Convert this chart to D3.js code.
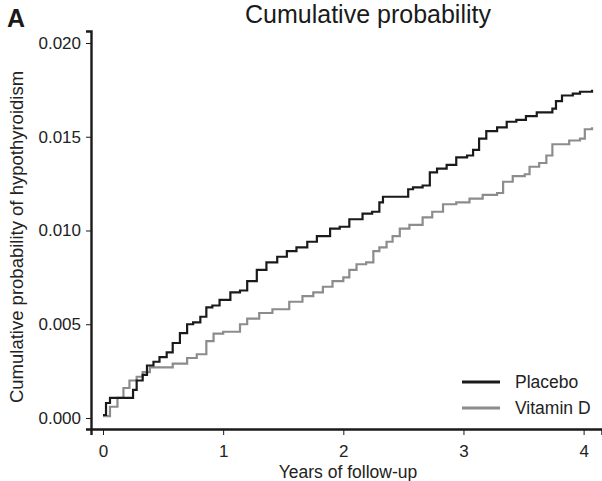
<!DOCTYPE html>
<html><head><meta charset="utf-8">
<script src="https://cdn.jsdelivr.net/npm/d3@7"></script>
<style>body{margin:0;background:#fff}svg{display:block}text{font-family:"Liberation Sans",Arial,sans-serif}</style>
</head><body><svg id="c" width="602" height="481"></svg>
<script>
const placeboT = [0,0.025,0.058,0.22,0.25,0.28,0.33,0.366,0.42,0.47,0.53,0.58,0.64,0.70,0.75,0.81,0.86,0.91,0.97,1.06,1.14,1.2,1.28,1.36,1.45,1.53,1.61,1.70,1.78,1.89,1.97,2.05,2.16,2.24,2.30,2.33,2.51,2.54,2.58,2.66,2.72,2.78,2.86,2.94,3.03,3.08,3.13,3.19,3.28,3.36,3.44,3.52,3.61,3.74,3.77,3.82,3.91,3.97,4.07];
const placeboP = [0.00016,0.0008,0.00107,0.00107,0.0015,0.0020,0.0023,0.0028,0.0030,0.00325,0.0035,0.0040,0.00453,0.0050,0.0051,0.0054,0.0059,0.0060,0.0063,0.0067,0.0068,0.0073,0.0079,0.0083,0.0086,0.0089,0.0091,0.0094,0.0097,0.0101,0.0102,0.0106,0.0109,0.0110,0.0115,0.0118,0.0118,0.0122,0.0123,0.0124,0.0131,0.0133,0.0135,0.0139,0.0140,0.0143,0.0149,0.0153,0.0155,0.0158,0.0159,0.0161,0.0163,0.0165,0.0169,0.0172,0.0173,0.0174,0.0175];
const vitdT = [0,0.058,0.12,0.17,0.22,0.28,0.33,0.39,0.50,0.58,0.70,0.78,0.86,0.92,1.0,1.08,1.14,1.2,1.30,1.41,1.55,1.66,1.75,1.83,1.91,2.0,2.05,2.11,2.19,2.25,2.30,2.36,2.41,2.47,2.55,2.66,2.74,2.83,2.94,3.05,3.16,3.28,3.33,3.41,3.51,3.55,3.63,3.69,3.74,3.82,3.88,3.97,4.01,4.07];
const vitdP = [0.0001,0.0006,0.00107,0.0016,0.0020,0.0022,0.00245,0.0027,0.0027,0.0029,0.0032,0.0034,0.0041,0.0045,0.0046,0.0046,0.0050,0.0053,0.0056,0.0058,0.0062,0.0065,0.0067,0.0070,0.0073,0.0075,0.0079,0.0082,0.0083,0.0089,0.0091,0.0094,0.0097,0.0101,0.0103,0.0107,0.0110,0.0114,0.0115,0.0117,0.0119,0.0120,0.0126,0.0129,0.0130,0.0134,0.0136,0.0140,0.0146,0.0146,0.0148,0.0149,0.0154,0.0155];
const seriesNames = ["Placebo","Vitamin D"];
const seriesColors = ["#1a1a1a","#8c8c8c"];
const xTicks = [0,1,2,3,4];
const yTicks = [0,0.005,0.010,0.015,0.020];

const svg = d3.select("#c");
const x = d3.scaleLinear().domain([-0.1,4.153]).range([91,602]);
const y = d3.scaleLinear().domain([-0.000587,0.02064]).range([429,31]);

const xa = svg.append("g").attr("transform","translate(0,429)")
  .call(d3.axisBottom(x).tickValues(xTicks).tickFormat(d3.format("d")).tickSizeOuter(0).tickSize(6).tickPadding(10));
const ya = svg.append("g").attr("transform","translate(91,0)")
  .call(d3.axisLeft(y).tickValues(yTicks).tickFormat(d3.format(".3f")).tickSizeOuter(0).tickSize(5).tickPadding(5));
[xa,ya].forEach(a=>{
  a.select(".domain").attr("stroke","#1a1a1a").attr("stroke-width",2.4);
  a.selectAll(".tick line").attr("stroke","#1a1a1a").attr("stroke-width",1);
  a.selectAll("text").attr("font-size",17).attr("fill","#222").attr("font-family","Liberation Sans, Arial, sans-serif");
});

const line = d3.line().x(d=>x(d[0])).y(d=>y(d[1])).curve(d3.curveStepAfter);
const data = [d3.zip(placeboT,placeboP), d3.zip(vitdT,vitdP)];
[1,0].forEach(i=>{
  svg.append("path").datum(data[i]).attr("d",line).attr("fill","none")
    .attr("stroke",seriesColors[i]).attr("stroke-width",2.2);
});

svg.append("text").attr("x",7).attr("y",27).attr("font-size",25).attr("font-weight","bold").attr("fill","#1a1a1a").text("A");
svg.append("text").attr("x",368).attr("y",23).attr("text-anchor","middle").attr("font-size",25).attr("fill","#1a1a1a").text("Cumulative probability");
svg.append("text").attr("transform","translate(23,237) rotate(-90)").attr("text-anchor","middle").attr("font-size",18.5).attr("fill","#222").text("Cumulative probability of hypothyroidism");
svg.append("text").attr("x",348).attr("y",478).attr("text-anchor","middle").attr("font-size",17.5).attr("fill","#222").text("Years of follow-up");

seriesNames.forEach((n,i)=>{
  const yy = 382 + i*26;
  svg.append("line").attr("x1",462).attr("x2",500).attr("y1",yy).attr("y2",yy).attr("stroke",seriesColors[i]).attr("stroke-width",2.8);
  svg.append("text").attr("x",515).attr("y",yy+6).attr("font-size",17.5).attr("fill","#222").text(n);
});
</script></body></html>
